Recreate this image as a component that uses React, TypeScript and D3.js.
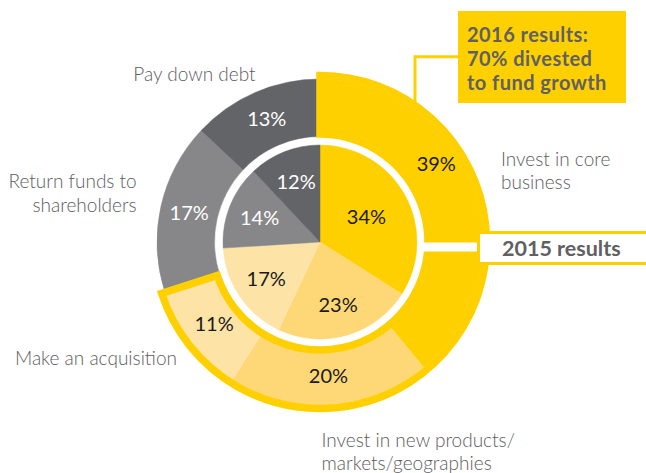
import React from "react";
import * as d3 from "d3";

const categories = [
  "Invest in core business",
  "Invest in new products/markets/geographies",
  "Make an acquisition",
  "Return funds to shareholders",
  "Pay down debt",
];
const results2016 = [39, 20, 11, 17, 13];
const results2015 = [34, 23, 17, 14, 12];
const sliceColors = ["#FFD000", "#FED877", "#FEE3A6", "#878789", "#636468"];
const labelColors = ["#1a1a1a", "#1a1a1a", "#1a1a1a", "#ffffff", "#ffffff"];
const highlightCount = 3; // first three categories = 70% divested to fund growth
const boxLines2016 = ["2016 results:", "70% divested", "to fund growth"];
const box2015 = "2015 results";

const W = 646;
const H = 473;
const cx = 320;
const cy = 242;
const YELLOW = "#FFD000";
const TEXT_GRAY = "#5c5c5e";
const BOLD_GRAY = "#606062";

export default function App() {
  const pie = d3.pie<number>().sort(null).value((d) => d).startAngle(0).endAngle(2 * Math.PI);
  const outer = pie(results2016);
  const inner = pie(results2015);

  const outerArc = d3.arc<d3.PieArcDatum<number>>().innerRadius(105.5).outerRadius(163);
  const innerArc = d3.arc<d3.PieArcDatum<number>>().innerRadius(0).outerRadius(97);

  const hlEnd = outer[highlightCount - 1].endAngle;
  const outlinePath = d3.arc()({
    innerRadius: 108,
    outerRadius: 166.5,
    startAngle: 0,
    endAngle: hlEnd,
  } as any) as string;

  const polar = (a: number, r: number) => [cx + r * Math.sin(a), cy - r * Math.cos(a)];

  const outerLabelPos = (d: d3.PieArcDatum<number>, i: number) => {
    const a = i === 0 ? d.startAngle + (d.endAngle - d.startAngle) * 0.4 : (d.startAngle + d.endAngle) / 2;
    const r = i === 0 ? 140 : 134;
    return polar(a, r);
  };
  const innerLabelPos = (d: d3.PieArcDatum<number>, i: number) => {
    const a = (d.startAngle + d.endAngle) / 2;
    const r = i === 0 ? 53 : 65;
    return polar(a, r);
  };

  const catFont = { fontFamily: "Lato, sans-serif", fontSize: 19, fontWeight: 300, fill: TEXT_GRAY } as const;
  const pctFont = { fontFamily: "Lato, sans-serif", fontSize: 20, fontWeight: 400 } as const;
  const boldFont = { fontFamily: "Lato, sans-serif", fontSize: 21.5, fontWeight: 700, fill: BOLD_GRAY } as const;
  const boxFont = { fontFamily: "Lato, sans-serif", fontSize: 20, fontWeight: 700, fill: BOLD_GRAY, letterSpacing: 0.45 } as const;

  return (
    <svg width={W} height={H} style={{ position: "absolute", left: 0, top: 0 }}>
      <rect width={W} height={H} fill="#ffffff" />

      {/* connector from 2016 box to the ring */}
      <path d="M458,56.7 H415 V106" fill="none" stroke={YELLOW} strokeWidth={3} />

      <g transform={`translate(${cx},${cy})`}>
        {outer.map((d, i) => (
          <path key={"o" + i} d={outerArc(d) as string} fill={sliceColors[i]} stroke={sliceColors[i]} strokeWidth={0.5} />
        ))}
        {inner.map((d, i) => (
          <path key={"i" + i} d={innerArc(d) as string} fill={sliceColors[i]} stroke={sliceColors[i]} strokeWidth={0.5} />
        ))}
        <path d={outlinePath} fill="none" stroke={YELLOW} strokeWidth={7.5} strokeLinejoin="miter" />
      </g>

      {/* white link to 2015 box */}
      <rect x={417.5} y={242.5} width={70} height={9} fill="#ffffff" />
      <rect x={478.5} y={232.5} width={180} height={31} fill="#ffffff" stroke={YELLOW} strokeWidth={3} />
      <text x={502} y={256} {...boldFont}>{box2015}</text>

      {/* 2016 box */}
      <rect x={458} y={11} width={168} height={92} fill={YELLOW} />
      <text x={467} y={41.5} {...boxFont}>
        {boxLines2016.map((t, i) => (
          <tspan key={t} x={467} y={41.5 + i * 24.1}>{t}</tspan>
        ))}
      </text>

      {/* percentage labels */}
      {outer.map((d, i) => {
        const [x, y] = outerLabelPos(d, i);
        return (
          <text key={"ol" + i} x={x} y={y} dy="0.36em" textAnchor="middle" {...pctFont} fill={labelColors[i]}>
            {results2016[i]}%
          </text>
        );
      })}
      {inner.map((d, i) => {
        const [x, y] = innerLabelPos(d, i);
        return (
          <text key={"il" + i} x={x} y={y} dy="0.36em" textAnchor="middle" {...pctFont} fill={labelColors[i]}>
            {results2015[i]}%
          </text>
        );
      })}

      {/* category labels */}
      <text x={501} y={166} {...catFont}>
        <tspan x={501}>Invest in core</tspan>
        <tspan x={501} y={189.3}>business</tspan>
      </text>
      <text x={321.5} y={446.7} {...catFont}>
        <tspan x={321.5}>Invest in new products/</tspan>
        <tspan x={321.5} y={469.5}>markets/geographies</tspan>
      </text>
      <text x={15} y={365} {...catFont}>Make an acquisition</text>
      <text x={136.7} y={188.3} textAnchor="end" {...catFont}>
        <tspan x={136.7}>Return funds to</tspan>
        <tspan x={136.7} y={211.7}>shareholders</tspan>
      </text>
      <text x={133.3} y={80.7} {...catFont}>Pay down debt</text>
    </svg>
  );
}
